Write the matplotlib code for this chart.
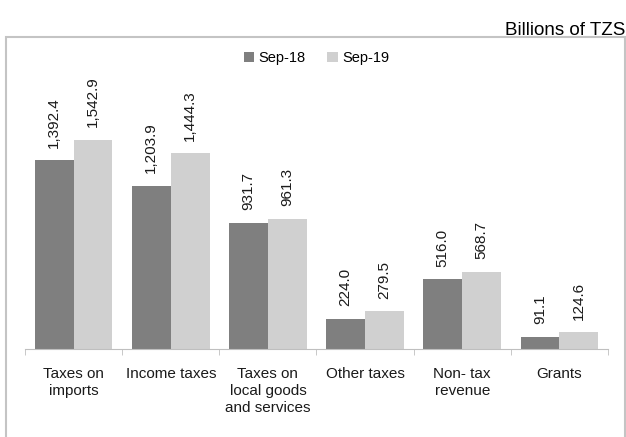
import numpy as np
import matplotlib.pyplot as plt
from matplotlib.patches import Rectangle

plt.rcParams['font.family'] = ['Liberation Sans', 'DejaVu Sans']

# datos
categories = ['Taxes on\nimports', 'Income taxes', 'Taxes on\nlocal goods\nand services',
              'Other taxes', 'Non- tax\nrevenue', 'Grants']
sep18 = [1392.4, 1203.9, 931.7, 224.0, 516.0, 91.1]
sep19 = [1542.9, 1444.3, 961.3, 279.5, 568.7, 124.6]
series_names = ['Sep-18', 'Sep-19']
colors = ['#7f7f7f', '#d0d0d0']

W, H = 626, 437
fig = plt.figure(figsize=(W / 100, H / 100), dpi=100)

# marco gris del area del grafico
fig.patches.append(Rectangle((6 / W, -0.05), 619 / W, 1.05 - 37 / H, transform=fig.transFigure,
                             fill=False, edgecolor='#c4c4c4', linewidth=1.5))

ax = fig.add_axes([25 / W, (H - 349) / H, 583 / W, 304 / H])

x = np.arange(len(categories))
w = 0.4
b1 = ax.bar(x - w / 2, sep18, w, color=colors[0], label=series_names[0])
b2 = ax.bar(x + w / 2, sep19, w, color=colors[1], label=series_names[1])

for bars in (b1, b2):
    for r in bars:
        ax.annotate(f'{r.get_height():,.1f}', (r.get_x() + r.get_width() / 2, r.get_height()),
                    xytext=(0, 9), textcoords='offset points', rotation=90,
                    ha='center', va='bottom', fontsize=11, color='#1a1a1a')

ax.set_xlim(-0.5, len(categories) - 0.5)
ax.set_ylim(0, 304 / 0.1356)

for s in ['top', 'right', 'left']:
    ax.spines[s].set_visible(False)
ax.spines['bottom'].set_color('#bfbfbf')
ax.set_yticks([])
ax.set_xticks(x)
ax.set_xticklabels(categories, fontsize=11, linespacing=1.25, color='#1a1a1a', va='top')
ax.tick_params(axis='x', which='major', length=0, pad=13)
ax.set_xticks(np.arange(-0.5, len(categories)), minor=True)
ax.tick_params(axis='x', which='minor', length=4, color='#bfbfbf')

ax.legend(loc='upper center', bbox_to_anchor=(0.5, 1.0), ncol=2, frameon=False,
          fontsize=10.5, handlelength=0.7, handleheight=0.7, handletextpad=0.3,
          columnspacing=1.5, borderaxespad=0.0)

fig.text(625 / W, 1 - 35 / H, 'Billions of TZS', ha='right', va='baseline', fontsize=13.5)
# titulo cortado arriba, solo se ven las colas de las letras
fig.text(362 / W, 1 + 5 / H, 'Revenue by Category', ha='right', va='baseline',
         fontsize=14, fontweight='bold', color='#1a1a1a')

fig.savefig('out.png', dpi=100)
